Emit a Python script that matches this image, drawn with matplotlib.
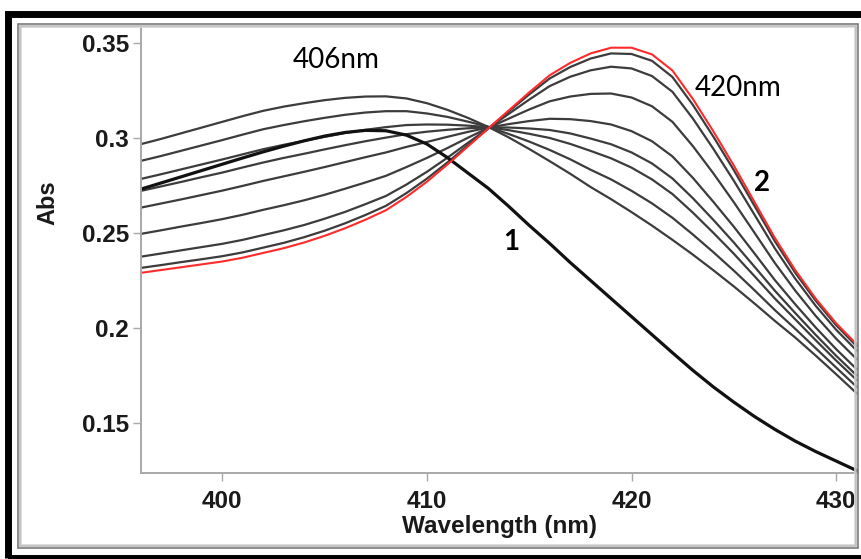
import matplotlib
matplotlib.use("Agg")
import matplotlib.pyplot as plt
from matplotlib.patches import Rectangle

# Wavelength grid (nm), 1 nm steps
wavelength = list(range(396, 432))

# Initial spectrum (trace 1)
abs_start = [0.273, 0.2763, 0.2796, 0.2829, 0.2862, 0.2895, 0.2927, 0.2957, 0.2985, 0.301,
             0.3029, 0.304, 0.3038, 0.3015, 0.2968, 0.2897, 0.2816, 0.2735, 0.264, 0.254,
             0.2445, 0.2345, 0.225, 0.2155, 0.206, 0.1965, 0.187, 0.1777, 0.169, 0.161,
             0.1535, 0.1467, 0.1405, 0.135, 0.130, 0.125]

# Titration series through the isosbestic point near 413 nm
abs_s1 = [0.2967, 0.2995, 0.3025, 0.3055, 0.3085, 0.3115, 0.3143, 0.3165, 0.3183, 0.3199,
          0.3211, 0.3218, 0.3219, 0.3208, 0.3183, 0.3148, 0.3106, 0.3058, 0.3003, 0.2942,
          0.2878, 0.2812, 0.2742, 0.2678, 0.2610, 0.2539, 0.2464, 0.2386, 0.2304, 0.2219,
          0.2130, 0.2038, 0.1950, 0.1855, 0.1757, 0.1657]
abs_s2 = [0.2879, 0.2905, 0.2933, 0.2961, 0.2989, 0.3018, 0.3046, 0.3068, 0.3088, 0.3106,
          0.3122, 0.3134, 0.3141, 0.3141, 0.3129, 0.3111, 0.3086, 0.3059, 0.3021, 0.2981,
          0.2937, 0.2888, 0.2833, 0.2782, 0.2722, 0.2656, 0.2580, 0.2492, 0.2399, 0.2302,
          0.2200, 0.2095, 0.1996, 0.1894, 0.1792, 0.1691]
abs_s3 = [0.2784, 0.2809, 0.2835, 0.2861, 0.2887, 0.2914, 0.2941, 0.2964, 0.2985, 0.3006,
          0.3026, 0.3043, 0.3057, 0.3068, 0.3071, 0.3070, 0.3065, 0.3057, 0.3041, 0.3022,
          0.3000, 0.2969, 0.2932, 0.2893, 0.2844, 0.2782, 0.2705, 0.2607, 0.2501, 0.2391,
          0.2274, 0.2156, 0.2046, 0.1936, 0.1829, 0.1727]
abs_s4 = [0.2721, 0.2745, 0.2769, 0.2794, 0.2818, 0.2845, 0.2871, 0.2895, 0.2917, 0.2940,
          0.2962, 0.2983, 0.3002, 0.3020, 0.3033, 0.3043, 0.3051, 0.3056, 0.3055, 0.3050,
          0.3042, 0.3024, 0.2997, 0.2967, 0.2924, 0.2866, 0.2787, 0.2683, 0.2569, 0.2450,
          0.2324, 0.2197, 0.2079, 0.1964, 0.1854, 0.1751]
abs_s5 = [0.2633, 0.2655, 0.2677, 0.2700, 0.2723, 0.2748, 0.2774, 0.2798, 0.2822, 0.2847,
          0.2873, 0.2899, 0.2924, 0.2953, 0.2979, 0.3006, 0.3032, 0.3055, 0.3073, 0.3089,
          0.3101, 0.3099, 0.3089, 0.3071, 0.3036, 0.2983, 0.2903, 0.2790, 0.2664, 0.2533,
          0.2394, 0.2253, 0.2125, 0.2003, 0.1889, 0.1784]
abs_s6 = [0.2495, 0.2514, 0.2534, 0.2553, 0.2573, 0.2596, 0.2622, 0.2646, 0.2672, 0.2701,
          0.2733, 0.2766, 0.2801, 0.2847, 0.2895, 0.2947, 0.3001, 0.3053, 0.3102, 0.3150,
          0.3193, 0.3218, 0.3232, 0.3234, 0.3213, 0.3167, 0.3085, 0.2957, 0.2814, 0.2662,
          0.2503, 0.2343, 0.2197, 0.2064, 0.1944, 0.1837]
abs_s7 = [0.2375, 0.2392, 0.2409, 0.2426, 0.2443, 0.2464, 0.2489, 0.2514, 0.2542, 0.2575,
          0.2611, 0.2652, 0.2695, 0.2755, 0.2822, 0.2896, 0.2974, 0.3051, 0.3127, 0.3202,
          0.3273, 0.3322, 0.3356, 0.3375, 0.3366, 0.3326, 0.3243, 0.3102, 0.2943, 0.2775,
          0.2598, 0.2420, 0.2260, 0.2117, 0.1991, 0.1882]
abs_s8 = [0.2316, 0.2331, 0.2347, 0.2362, 0.2378, 0.2398, 0.2423, 0.2448, 0.2478, 0.2512,
          0.2551, 0.2595, 0.2643, 0.2710, 0.2786, 0.2871, 0.2961, 0.3050, 0.3140, 0.3229,
          0.3313, 0.3373, 0.3418, 0.3445, 0.3442, 0.3406, 0.3321, 0.3174, 0.3007, 0.2831,
          0.2645, 0.2458, 0.2291, 0.2144, 0.2015, 0.1905]

# Final spectrum (trace 2)
abs_end = [0.229, 0.2305, 0.232, 0.2335, 0.235, 0.237, 0.2395, 0.242, 0.245, 0.2485,
           0.2525, 0.257, 0.262, 0.269, 0.277, 0.286, 0.2955, 0.305, 0.3145, 0.324,
           0.333, 0.3395, 0.3445, 0.3475, 0.3475, 0.344, 0.3355, 0.3205, 0.3035, 0.2855,
           0.2665, 0.2475, 0.2305, 0.2155, 0.2025, 0.1915]

series = [abs_s1, abs_s2, abs_s3, abs_s4, abs_s5, abs_s6, abs_s7, abs_s8]

xticks = [400, 410, 420, 430]
yticks = [0.15, 0.2, 0.25, 0.3, 0.35]
ytick_labels = ["0.15", "0.2", "0.25", "0.3", "0.35"]

W, H = 862, 559
fig = plt.figure(figsize=(W / 100, H / 100), dpi=100)
fig.patch.set_facecolor("white")

# Outer heavy black frame and inner grey frame with a soft shadow
frame_font = "Liberation Sans"
fig.patches.append(Rectangle((8.5 / W, 1 - 558 / H), (870 - 8.5) / W, (558 - 14) / H,
                             transform=fig.transFigure, fill=False,
                             edgecolor="black", linewidth=5.0, zorder=0))
for off, col in [(3.0, "#d8d8d8"), (2.0, "#bdbdbd"), (0.0, "#7a7a7a")]:
    fig.patches.append(Rectangle(((18 + off) / W, 1 - (548 - off) / H),
                                 (858 - 18 - 2 * off) / W, (548 - 24 - 2 * off) / H,
                                 transform=fig.transFigure, fill=False,
                                 edgecolor=col, linewidth=1.2, zorder=0))

ax_left, ax_right = 141.5, 858
ax_top, ax_bottom = 27, 473
ax = fig.add_axes([ax_left / W, 1 - ax_bottom / H,
                   (ax_right - ax_left) / W, (ax_bottom - ax_top) / H])
ax.set_facecolor("none")

for s in series:
    ax.plot(wavelength, s, color="#3c3c3c", linewidth=1.6, solid_joinstyle="round")
ax.plot(wavelength, abs_start, color="#111111", linewidth=2.3, solid_joinstyle="round")
ax.plot(wavelength, abs_end, color="#ff2a2a", linewidth=1.5, solid_joinstyle="round")

ax.set_xlim(396.05, 431.07)
ax.set_ylim(0.1237, 0.3584)

for side in ("top", "right"):
    ax.spines[side].set_visible(False)
for side in ("left", "bottom"):
    ax.spines[side].set_color("#a8a8a8")
    ax.spines[side].set_linewidth(1.4)

ax.set_xticks(xticks)
ax.set_xticklabels([str(t) for t in xticks])
ax.set_yticks(yticks)
ax.set_yticklabels(ytick_labels)
ax.tick_params(axis="both", colors="#a8a8a8", length=6, width=1.0,
               labelcolor="#1a1a1a", labelsize=17.5)
ax.tick_params(axis="y", pad=3.0)
ax.tick_params(axis="x", pad=6.5)
for lab in ax.get_xticklabels() + ax.get_yticklabels():
    lab.set_fontfamily(frame_font)
    lab.set_fontweight("bold")

ax.set_xlabel("Wavelength (nm)", fontfamily=frame_font, fontweight="bold",
              fontsize=17.5, color="#1a1a1a", labelpad=1)
fig.text(48 / W, 1 - 203 / H, "Abs", rotation=90, ha="center", va="center",
         fontfamily=frame_font, fontweight="bold", fontsize=17, color="#1a1a1a")

# Peak and trace annotations
ann_font = "Lato"
ax.text(405.56, 0.341, "406nm", ha="center", va="center", fontfamily=ann_font,
        fontsize=20, color="black")
ax.text(425.2, 0.3263, "420nm", ha="center", va="center", fontfamily=ann_font,
        fontsize=20, color="black")
ax.text(414.1, 0.2453, "1", ha="center", va="center", fontfamily=ann_font,
        fontweight="bold", fontsize=20, color="black")
ax.text(426.4, 0.2763, "2", ha="center", va="center", fontfamily=ann_font,
        fontweight="bold", fontsize=20, color="black")

fig.savefig("out.png", dpi=100, facecolor="white")
